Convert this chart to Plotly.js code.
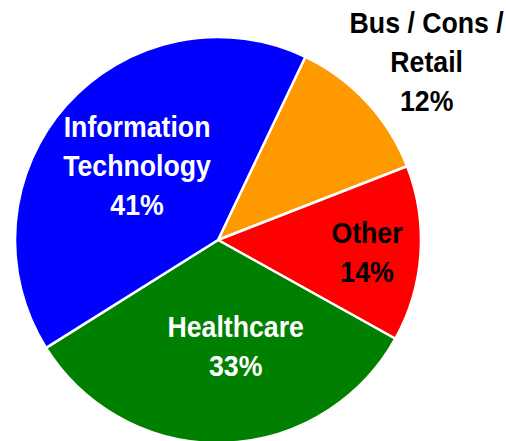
<!DOCTYPE html>
<html>
<head>
<meta charset="utf-8">
<script src="https://cdn.plot.ly/plotly-3.0.1.min.js"></script>
<style>
html, body { margin: 0; padding: 0; overflow: hidden; background: #fff; }
#chart { width: 506px; height: 446px; }
/* emulate a condensed bold face with a horizontal squeeze of Liberation Sans Bold */
#chart .annotation-text {
  transform-box: fill-box;
  transform-origin: center;
  transform: scaleX(0.89);
}
</style>
</head>
<body>
<div id="chart"></div>
<script>
// Data
const labels = ["Bus / Cons /<br>Retail", "Other", "Healthcare", "Information<br>Technology"];
const values = [12, 14, 33, 41];
const colors = ["#FF9900", "#FF0000", "#008000", "#0000FF"];
const labelTextColors = ["#000000", "#000000", "#FFFFFF", "#FFFFFF"];

const W = 506, H = 446;
const total = values.reduce((a, b) => a + b, 0);
const pct = values.map(v => Math.round(v / total * 100) + "%");

// label centres in pixels (layout only)
const labelPos = [[427, 61], [367, 252], [235, 346], [137, 165]];

const trace = {
  type: "pie",
  labels: labels.map(l => l.replace(/<br>/g, " ")),
  values: values,
  sort: false,
  direction: "clockwise",
  rotation: 25.5,
  marker: { colors: colors, line: { color: "#FFFFFF", width: 2.5 } },
  textinfo: "none",
  hoverinfo: "label+percent",
  showlegend: false,
  domain: { x: [15 / W, 421 / W], y: [3 / H, 409 / H] }
};

const annotations = labels.map((l, i) => ({
  xref: "paper", yref: "paper",
  x: labelPos[i][0] / W, y: 1 - labelPos[i][1] / H,
  xanchor: "center", yanchor: "middle",
  showarrow: false,
  align: "center",
  text: l + "<br>" + pct[i],
  font: {
    family: "'Liberation Sans', Arial, sans-serif",
    size: 30, weight: "bold", color: labelTextColors[i]
  }
}));

Plotly.newPlot("chart", [trace], {
  width: W, height: H,
  margin: { l: 0, r: 0, t: 0, b: 0 },
  paper_bgcolor: "#FFFFFF",
  annotations: annotations
}, { displayModeBar: false, staticPlot: true });
</script>
</body>
</html>
